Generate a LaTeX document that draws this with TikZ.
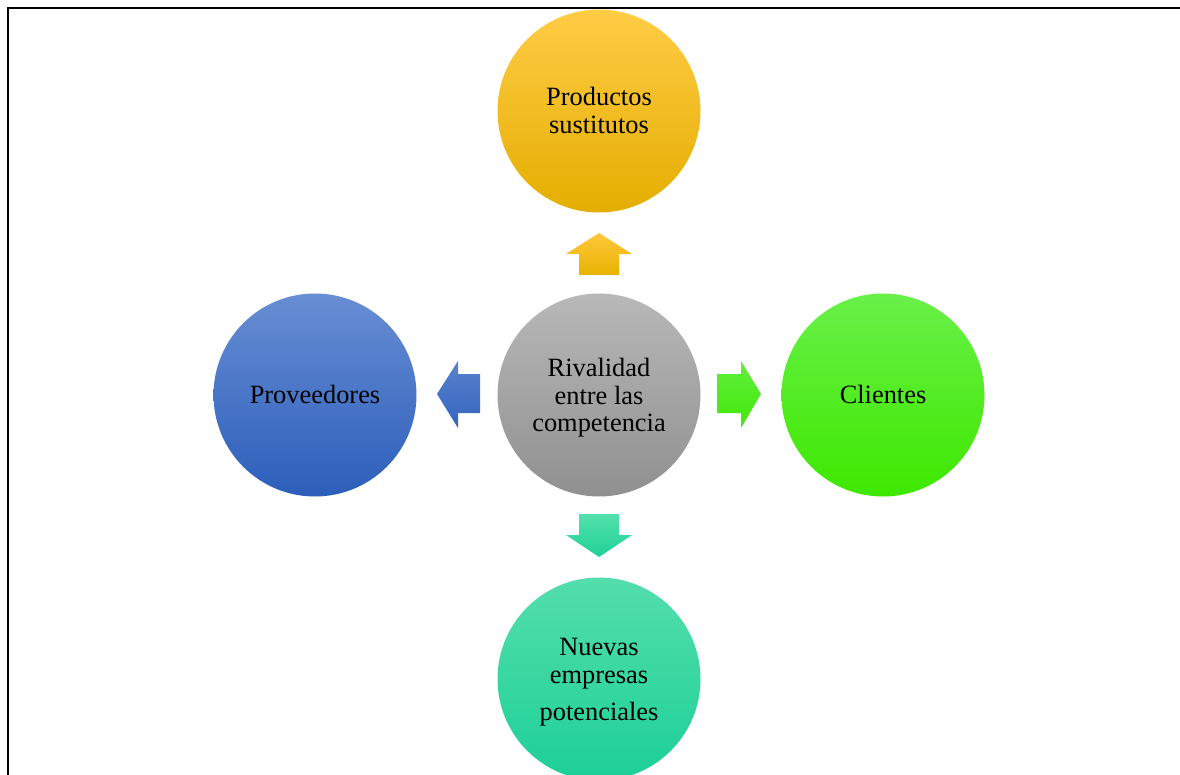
\documentclass[tikz,border=0pt]{standalone}
\usepackage{fontspec}
\setmainfont{Liberation Serif}
\begin{document}
\begin{tikzpicture}[x=1pt,y=-1pt,
  force/.style={circle, minimum size=203pt, inner sep=0pt},
  caption/.style={anchor=base, inner sep=0pt, font=\fontsize{26.4}{28}\selectfont, text=black}]
\useasboundingbox (0,0) rectangle (1180,775);
\clip (0,0) rectangle (1180,775);
% outer frame
\draw[line width=2pt] (8,776) -- (8,8) -- (1181,8);
% five forces
\node[force, top color={rgb,255:red,255;green,204;blue,70}, middle color={rgb,255:red,255;green,192;blue,0}, bottom color={rgb,255:red,228;green,174;blue,0}] (sust) at (599,111) {};
\node[force, top color={rgb,255:red,184;green,184;blue,184}, bottom color={rgb,255:red,144;green,144;blue,144}] (riv) at (599,395) {};
\node[force, top color={rgb,255:red,104;green,142;blue,212}, bottom color={rgb,255:red,44;green,94;blue,186}] (prov) at (315,395) {};
\node[force, top color={rgb,255:red,104;green,240;blue,72}, bottom color={rgb,255:red,62;green,232;blue,0}] (cli) at (883,395) {};
\node[force, top color={rgb,255:red,84;green,222;blue,172}, bottom color={rgb,255:red,28;green,208;blue,150}] (nue) at (599,679) {};
% captions
\node[caption] (sust1) at (599,106) {Productos};
\node[caption] (sust2) at (599,134) {sustitutos};
\node[caption] (riv1) at (599,376) {Rivalidad};
\node[caption] (riv2) at (599,404) {entre las};
\node[caption] (riv3) at (599,431) {competencia};
\node[caption] (prov1) at (315,403) {Proveedores};
\node[caption] (cli1) at (883,403) {Clientes};
\node[caption] (nue1) at (599,655) {Nuevas};
\node[caption] (nue2) at (599,683) {empresas};
\node[caption] (nue3) at (599,720) {potenciales};
% block arrows
\shade[top color={rgb,255:red,255;green,200;blue,60}, bottom color={rgb,255:red,232;green,178;blue,0}]
  (599,233) -- (632,254) -- (619,254) -- (619,275) -- (579,275) -- (579,254) -- (566,254) -- cycle;
\shade[top color={rgb,255:red,90;green,130;blue,206}, bottom color={rgb,255:red,50;green,100;blue,190}]
  (437,394) -- (458,361) -- (458,374) -- (480,374) -- (480,413) -- (458,413) -- (458,428) -- cycle;
\shade[top color={rgb,255:red,96;green,240;blue,60}, bottom color={rgb,255:red,66;green,232;blue,10}]
  (761,394) -- (741,361) -- (741,374) -- (717,374) -- (717,413) -- (741,413) -- (741,428) -- cycle;
\shade[top color={rgb,255:red,84;green,224;blue,172}, bottom color={rgb,255:red,30;green,210;blue,150}]
  (599,557) -- (632,535) -- (619,535) -- (619,514) -- (579,514) -- (579,535) -- (566,535) -- cycle;
\end{tikzpicture}
\end{document}
